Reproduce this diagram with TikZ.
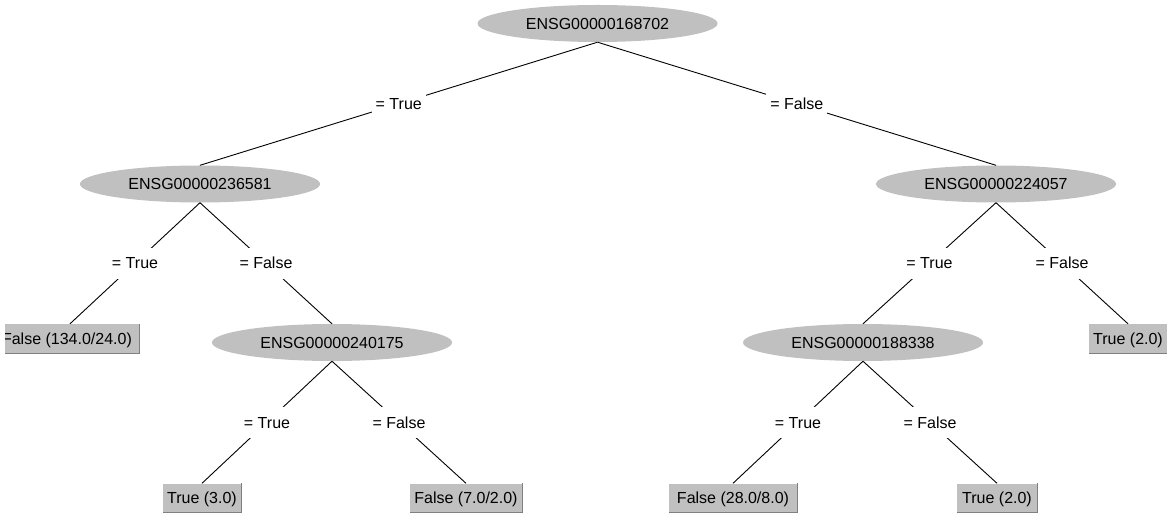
\documentclass[tikz,border=0pt]{standalone}
\usepackage{fontspec}
\setmainfont{Liberation Sans}
\usetikzlibrary{shapes.geometric}
\definecolor{nodegray}{RGB}{192,192,192}
\definecolor{edgedark}{RGB}{128,128,128}
\tikzset{
  txt/.style={font=\fontsize{16pt}{19pt}\selectfont, text height=11.5pt, text depth=0pt},
  inner/.style={txt, ellipse, fill=nodegray, minimum width=240pt, minimum height=37pt, inner sep=0pt},
  leaf/.style={txt, rectangle, fill=nodegray, minimum height=29pt, inner sep=0pt},
  lbl/.style={txt, fill=white, inner xsep=4pt, inner ysep=0pt, minimum height=31pt, pos=0.5},
  edge/.style={draw=black, line width=0.9pt}
}
\begin{document}
\begin{tikzpicture}[x=1pt,y=-1pt]
\useasboundingbox (0,0) rectangle (1167,518);
\begin{scope}
\clip (5,0) rectangle (1167,518);
% internal nodes
\node[inner] (r) at (597.5,23.5) {ENSG00000168702};
\node[inner] (a) at (200,184) {ENSG00000236581};
\node[inner] (b) at (996,184) {ENSG00000224057};
\node[inner] (c) at (332,342.5) {ENSG00000240175};
\node[inner] (d) at (863,342.5) {ENSG00000188338};
% leaves
\node[leaf, minimum width=138pt] (l1) at (70,338.5) {\kern-6pt False (134.0/24.0)};
\node[leaf, minimum width=78pt] (l2) at (202,498) {True (3.0)};
\node[leaf, minimum width=112pt] (l3) at (466,498) {False (7.0/2.0)};
\node[leaf, minimum width=128pt] (l4) at (733,498) {False (28.0/8.0)};
\node[leaf, minimum width=80pt] (l5) at (997,498) {True (2.0)};
\node[leaf, minimum width=78pt] (l6) at (1128,338.5) {True (2.0)};
% 3D borders of leaves
\foreach \n in {l1,l2,l3,l4,l5,l6}{
  \draw[white, line width=0.9pt] (\n.south west) |- (\n.north east);
  \draw[edgedark, line width=0.9pt] (\n.south west) -| (\n.north east);
}
% edges
\path[edge] (r.south) -- node[lbl] {= True} (a.north);
\path[edge] (r.south) -- node[lbl] {= False} (b.north);
\path[edge] (a.south) -- node[lbl] {= True} (l1.north);
\path[edge] (a.south) -- node[lbl] {= False} (c.north);
\path[edge] (c.south) -- node[lbl] {= True} (l2.north);
\path[edge] (c.south) -- node[lbl] {= False} (l3.north);
\path[edge] (b.south) -- node[lbl] {= True} (d.north);
\path[edge] (b.south) -- node[lbl] {= False} (l6.north);
\path[edge] (d.south) -- node[lbl] {= True} (l4.north);
\path[edge] (d.south) -- node[lbl] {= False} (l5.north);
\end{scope}
\end{tikzpicture}
\end{document}
